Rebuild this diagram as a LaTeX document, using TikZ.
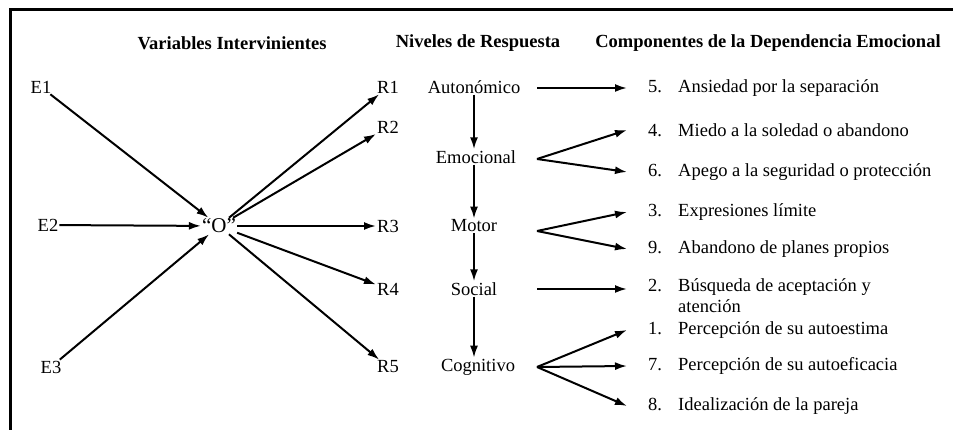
\documentclass[tikz,border=0pt]{standalone}
\usepackage{fontspec}
\setmainfont{Liberation Serif}
\usetikzlibrary{calc}
\usetikzlibrary{positioning}
\usetikzlibrary{arrows.meta}
\tikzset{x=1pt, y=-1pt,
  every node/.style={font=\fontsize{18.5}{21}\selectfont, inner sep=1pt},
  head/.style={font=\fontsize{18.5}{21}\selectfont\bfseries},
  level/.style={anchor=center},
  comp/.style={anchor=west, align=left},
  arr/.style={draw, line width=2pt, -{Latex[length=12pt, width=8pt]}},
  frame/.style={line width=3pt}}
\newcommand\compitem[2]{\makebox[30pt][l]{#1}#2}

\begin{document}
\begin{tikzpicture}
  \useasboundingbox (0,0) rectangle (953,430);

  % frame (open at right and bottom)
  \draw[frame] (10,430) -- (10,10) -- (953,10);

  % headers
  \node[head] (hvar) at (232,43) {Variables Intervinientes};
  \node[head] (hniv) at (478,43) {Niveles de Respuesta};
  \node[head] (hcom) at (768,43) {Componentes de la Dependencia Emocional};

  % stimuli and organism
  \node (e1) at (41,87) {E1};
  \node (e2) at (48,225) {E2};
  \node (e3) at (51,367) {E3};
  \node[font=\fontsize{21}{24}\selectfont] (o) at (219,226) {``O''};

  % responses
  \node (r1) at (388,87) {R1};
  \node (r2) at (388,127) {R2};
  \node (r3) at (388,226) {R3};
  \node (r4) at (388,289) {R4};
  \node (r5) at (388,367) {R5};

  \draw[arr] (e1) -- (o);
  \draw[arr] (e2) -- (o);
  \draw[arr] (e3) -- (o);
  \foreach \r in {r1,r2,r3,r4,r5}
    \draw[arr] (o) -- (\r);

  % response levels
  \node[level] (aut) at (474,87) {Autonómico};
  \node[level] (emo) at (476,157) {Emocional};
  \node[level] (mot) at (474,226) {Motor};
  \node[level] (soc) at (474,289) {Social};
  \node[level] (cog) at (478,367) {Cognitivo};

  \draw[arr] (aut) -- (aut |- emo.north);
  \draw[arr] (aut |- emo.south) -- (aut |- mot.north);
  \draw[arr] (aut |- mot.south) -- (aut |- soc.north);
  \draw[arr] (aut |- soc.south) -- (aut |- cog.north);

  % components
  \node[comp] (c5) at (647,88) {\compitem{5.}{Ansiedad por la separación}};
  \node[comp] (c4) at (647,130) {\compitem{4.}{Miedo a la soledad o abandono}};
  \node[comp] (c6) at (647,172) {\compitem{6.}{Apego a la seguridad o protección}};
  \node[comp] (c3) at (647,212) {\compitem{3.}{Expresiones límite}};
  \node[comp] (c9) at (647,249) {\compitem{9.}{Abandono de planes propios}};
  \node[comp, anchor=north west, inner ysep=0pt] (c2) at (647,278) {\compitem{2.}{Búsqueda de aceptación y}\\\hspace*{30pt}atención};
  \node[comp] (c1) at (647,330) {\compitem{1.}{Percepción de su autoestima}};
  \node[comp] (c7) at (647,366) {\compitem{7.}{Percepción de su autoeficacia}};
  \node[comp] (c8) at (647,406) {\compitem{8.}{Idealización de la pareja}};

  % fork points
  \coordinate (autf) at (537,88);
  \coordinate (emof) at (537,159);
  \coordinate (motf) at (537,231);
  \coordinate (socf) at (537,289);
  \coordinate (cogf) at (537,367);

  \draw[arr] (autf) -- ([xshift=-20pt]c5.west);
  \draw[arr] (emof) -- ([xshift=-20pt]c4.west);
  \draw[arr] (emof) -- ([xshift=-20pt]c6.west);
  \draw[arr] (motf) -- ([xshift=-20pt]c3.west);
  \draw[arr] (motf) -- ([xshift=-20pt]c9.west);
  \draw[arr] (socf) -- ($(socf -| c2.west)+(-20,0)$);
  \draw[arr] (cogf) -- ([xshift=-20pt]c1.west);
  \draw[arr] (cogf) -- ([xshift=-20pt]c7.west);
  \draw[arr] (cogf) -- ([xshift=-20pt]c8.west);
\end{tikzpicture}
\end{document}
